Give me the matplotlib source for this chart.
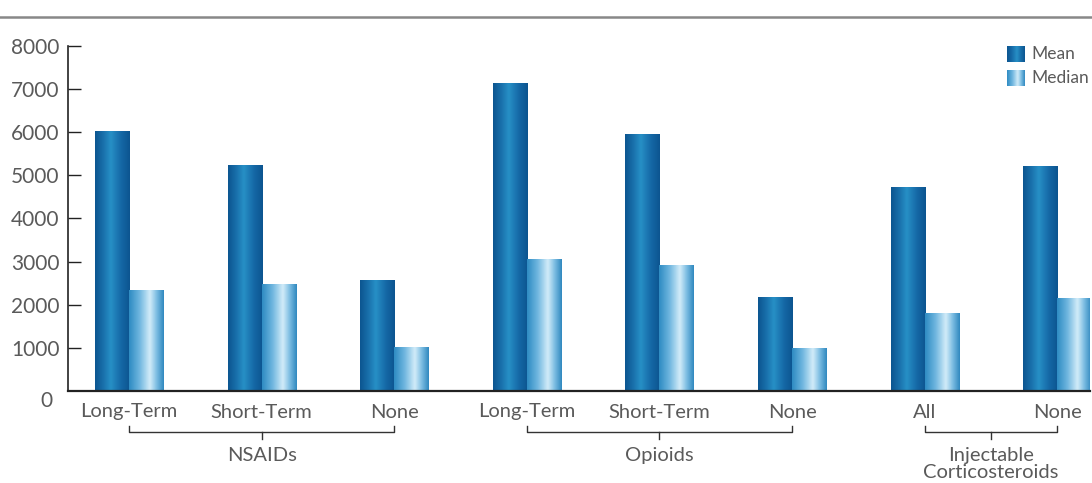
import matplotlib.pyplot as plt
import numpy as np
from matplotlib.colors import LinearSegmentedColormap
from matplotlib.lines import Line2D

plt.rcParams['font.family'] = ['Lato', 'DejaVu Sans']

# data
categories = ['Long-Term', 'Short-Term', 'None',
              'Long-Term', 'Short-Term', 'None',
              'All', 'None']
mean_vals = [6020, 5230, 2560, 7140, 5950, 2160, 4720, 5210]
median_vals = [2330, 2470, 1020, 3050, 2910, 980, 1790, 2140]
groups = [('NSAIDs', 0, 2), ('Opioids', 3, 5), ('Injectable\nCorticosteroids', 6, 7)]

# horizontal "cylinder" shading for the bars
mean_cmap = LinearSegmentedColormap.from_list(
    'mean', [(0.0, '#0c5590'), (0.25, '#1568a6'), (0.55, '#2790c6'),
             (0.75, '#1a72ad'), (1.0, '#0c5590')])
median_cmap = LinearSegmentedColormap.from_list(
    'median', [(0.0, '#2f8cc3'), (0.3, '#6fb6df'), (0.6, '#d2ecf9'),
               (0.8, '#7cbde2'), (1.0, '#3189c0')])
grad = np.linspace(0, 1, 64).reshape(1, -1)

fig = plt.figure(figsize=(10.92, 4.83), dpi=100)
ax = fig.add_axes([68 / 1092, 1 - 391 / 483, 1022 / 1092, 345 / 483])

x = np.arange(len(categories))
width = 0.257
mean_bars = ax.bar(x, mean_vals, width=-width, align='edge', color='none')
median_bars = ax.bar(x, median_vals, width=width, align='edge', color='none')

def shade(bars, cmap):
    for b in bars:
        x0, y0 = b.get_x(), b.get_y()
        w, h = b.get_width(), b.get_height()
        ax.imshow(grad, cmap=cmap, aspect='auto', interpolation='bicubic',
                  extent=(x0, x0 + w, y0, y0 + h), zorder=2)

shade(mean_bars, mean_cmap)
shade(median_bars, median_cmap)

ax.set_xlim(-0.46, 7.247)
ax.set_ylim(0, 8000)

# axes styling
for s in ['top', 'right']:
    ax.spines[s].set_visible(False)
ax.spines['left'].set_color('#222222')
ax.spines['bottom'].set_color('#222222')
ax.spines['left'].set_linewidth(1.2)
ax.spines['bottom'].set_linewidth(1.6)

txt = '#5a5a5a'
ax.set_yticks(np.arange(1000, 9000, 1000))
ax.tick_params(axis='y', direction='in', length=9, width=1, color='#222222',
               labelsize=15, labelcolor=txt, pad=6)
ax.annotate('0', xy=(0, 0), xycoords=('axes fraction', 'data'),
            xytext=(-11, -7), textcoords='offset points',
            ha='right', va='center', fontsize=15, color=txt)

ax.set_xticks(x)
ax.set_xticklabels(categories)
ax.tick_params(axis='x', length=0, labelsize=14.5, labelcolor=txt, pad=9)

# group brackets under the category labels
trans = ax.get_xaxis_transform()
for name, i0, i1 in groups:
    kw = dict(transform=trans, color='#333333', lw=1, clip_on=False)
    ax.plot([i0, i0, i1, i1], [-0.101, -0.119, -0.119, -0.101], **kw)
    mid = (i0 + i1) / 2
    ax.plot([mid, mid], [-0.119, -0.139], **kw)
    ax.text(mid, -0.163, name, transform=trans, ha='center', va='top',
            fontsize=14.5, color=txt, linespacing=1.0)

# legend with shaded swatches
for (label, cmap, y0, y1) in [('Mean', mean_cmap, 0.954, 1.0),
                              ('Median', median_cmap, 0.884, 0.930)]:
    ax.imshow(grad, cmap=cmap, aspect='auto', interpolation='bicubic',
              extent=(0.919, 0.936, y0, y1), transform=ax.transAxes,
              zorder=3, clip_on=False)
    ax.text(0.943, (y0 + y1) / 2, label, transform=ax.transAxes,
            ha='left', va='center', fontsize=12.5, color=txt)

# rule under the (cropped) heading
fig.add_artist(Line2D([0, 1], [1 - 17 / 483] * 2, transform=fig.transFigure,
                      color='#888888', lw=1.8))

fig.savefig('out.png', dpi=100)
